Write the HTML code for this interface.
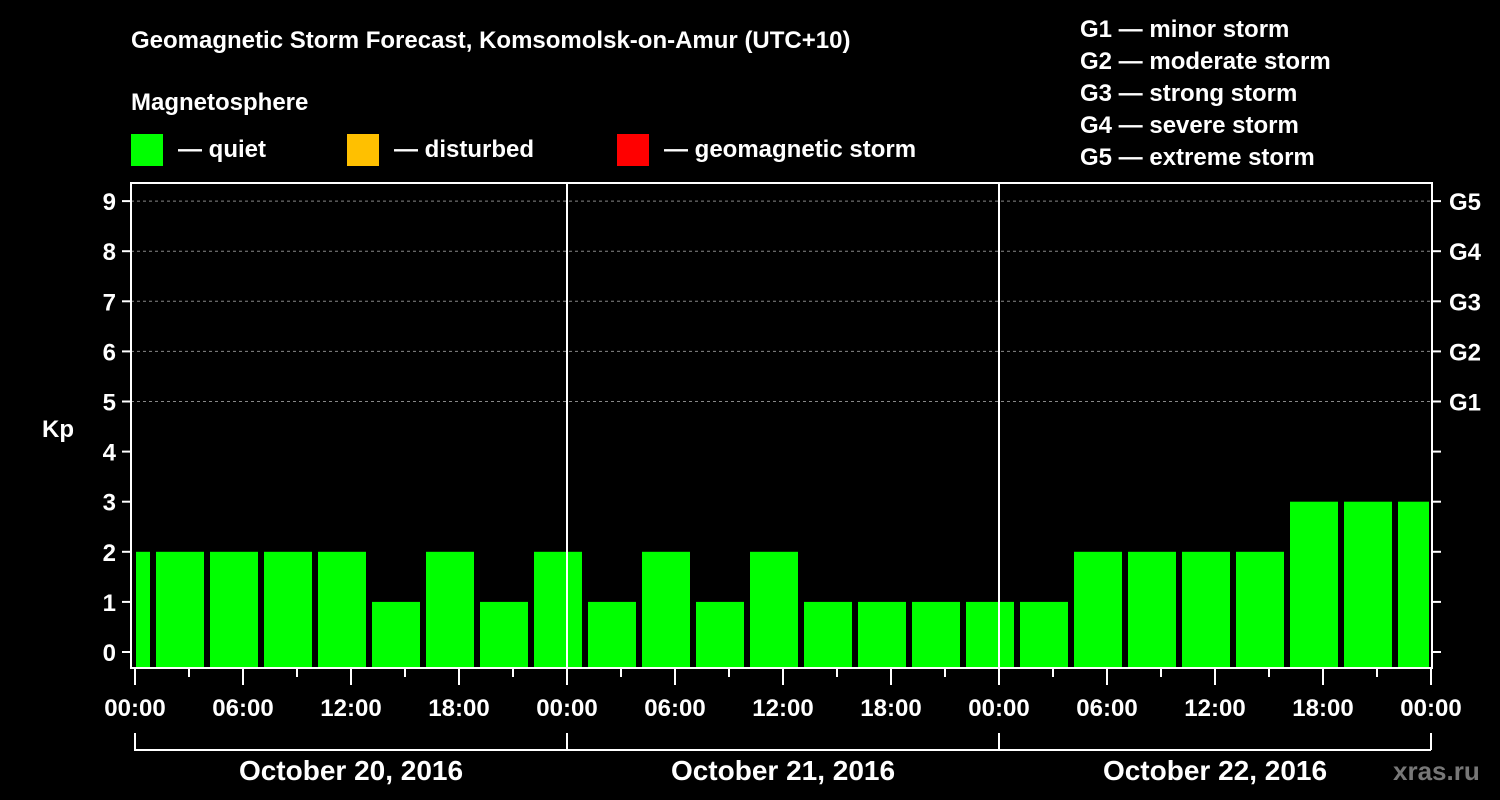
<!DOCTYPE html>
<html><head><meta charset="utf-8"><style>
body{margin:0;background:#000;width:1500px;height:800px;overflow:hidden}
svg{display:block;font-family:"Liberation Sans",Arial,sans-serif;font-weight:bold}
</style></head><body>
<svg id="c" width="1500" height="800">
<text x="131" y="48" fill="#fff" font-size="24">Geomagnetic Storm Forecast, Komsomolsk-on-Amur (UTC+10)</text>
<text x="131" y="110" fill="#fff" font-size="24">Magnetosphere</text>
<g><rect x="131" y="134" width="32" height="32" fill="#00ff00"/><text x="178" y="157" fill="#fff" font-size="24">— quiet</text></g>
<g><rect x="347" y="134" width="32" height="32" fill="#ffc000"/><text x="394" y="157" fill="#fff" font-size="24">— disturbed</text></g>
<g><rect x="617" y="134" width="32" height="32" fill="#ff0000"/><text x="664" y="157" fill="#fff" font-size="24">— geomagnetic storm</text></g>
<g fill="#fff" font-size="24">
<text x="1080" y="37">G1 — minor storm</text><text x="1080" y="69">G2 — moderate storm</text><text x="1080" y="101">G3 — strong storm</text><text x="1080" y="133">G4 — severe storm</text><text x="1080" y="165">G5 — extreme storm</text>
</g>
<g id="plot"></g>
<text x="1393" y="780" fill="#777" font-size="26">xras.ru</text>
</svg>
<script>
const kpValues=[2,2,2,2,2,1,2,1,2,1,2,1,2,1,1,1,1,1,2,2,2,2,3,3,3];
const yTicks=[0,1,2,3,4,5,6,7,8,9];
const gLabels=["G1","G2","G3","G4","G5"];
const timeLabels=["00:00","06:00","12:00","18:00"];
const dayLabels=["October 20, 2016","October 21, 2016","October 22, 2016"];
const NS="http://www.w3.org/2000/svg";
const P=document.getElementById('plot');
const L=131,R=1432,T=183,B=668;
const y=v=>652-v*50.1;
const x=h=>135+h*18;
function mk(t,a,parent){const e=document.createElementNS(NS,t);for(const k in a)e.setAttribute(k,a[k]);(parent||P).appendChild(e);return e;}
// grid
yTicks.forEach(v=>{
 if(v>=5){const g=mk('line',{x1:L,x2:R,y1:y(v),y2:y(v),stroke:'#888','stroke-dasharray':'3,3','stroke-width':1});
 
 }
 const tl=mk('line',{x1:122,x2:L,y1:y(v),y2:y(v),stroke:'#fff','stroke-width':2});
 const tr=mk('line',{x1:R,x2:1441,y1:y(v),y2:y(v),stroke:'#fff','stroke-width':2});
 const t=mk('text',{x:116,y:y(v)+9,fill:'#fff','font-size':24,'text-anchor':'end'});t.textContent=v;
 
 
});
gLabels.forEach((g,i)=>{const t=mk('text',{x:1449,y:y(5+i)+9,fill:'#fff','font-size':24});t.textContent=g;
 
 });
const yl=mk('text',{x:42,y:437,fill:'#fff','font-size':24});yl.textContent='Kp';


// bars
kpValues.forEach((v,i)=>{
 const h0=-2+3*i,h1=h0+3;
 let x0=x(h0)+3,x1=x(h1)-3;
 x0=Math.max(x0,x(0)+1);x1=Math.min(x1,x(72)-2);
 const r=mk('rect',{x:x0,y:y(v),width:x1-x0,height:B-y(v),fill:'#00ff00'});
 
 
});
// day separators
[1,2].forEach(d=>{const l=mk('line',{x1:x(24*d),x2:x(24*d),y1:T,y2:B,stroke:'#fff','stroke-width':2});
 
 });
const fr=mk('rect',{x:L,y:T,width:R-L,height:B-T,fill:'none',stroke:'#fff','stroke-width':2});


// x ticks
for(let h=0;h<=72;h+=3){const major=h%6===0;mk('line',{x1:x(h),x2:x(h),y1:B,y2:B+(major?17:9),stroke:'#fff','stroke-width':2});}
for(let h=0;h<=72;h+=6){const t=mk('text',{x:x(h),y:716,fill:'#fff','font-size':24,'text-anchor':'middle'});t.textContent=timeLabels[(h/6)%4];
 
 }
// day brackets
dayLabels.forEach((d,i)=>{
 mk('path',{d:`M${x(24*i)},733V750H${x(24*i+24)}`,fill:'none',stroke:'#fff','stroke-width':2});
 const t=mk('text',{x:x(24*i+12),y:780,fill:'#fff','font-size':28,'text-anchor':'middle'});t.textContent=d;
 
 
});
mk('line',{x1:x(72),x2:x(72),y1:733,y2:750,stroke:'#fff','stroke-width':2});
</script>
</body></html>
